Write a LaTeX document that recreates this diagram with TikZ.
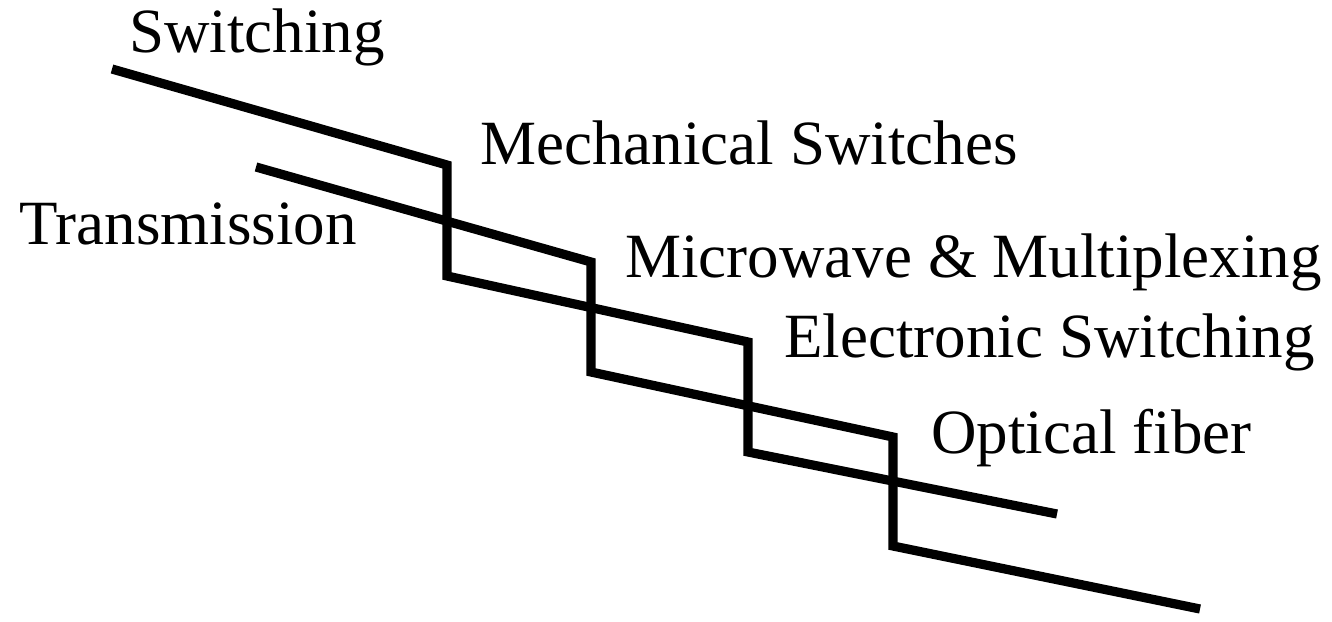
\documentclass[tikz,border=0pt]{standalone}
\usepackage{fontspec}
\setmainfont{Liberation Serif}
\usepackage{tikz}
\usetikzlibrary{positioning}

\begin{document}
\begin{tikzpicture}[
      x=0.5pt, y=-0.5pt,
      rotulo/.style={anchor=base west, inner sep=0pt, font=\fontsize{31.5}{36}\selectfont},
      degrau/.style={line width=4.6pt, line join=miter, line cap=butt}
  ]
      \useasboundingbox (0,0) rectangle (1332,621);

      % Rotulos
      \node[rotulo] (comut) at (129,52) {Switching};
      \node[rotulo] (trans) at (19,244) {Transmission};
      \node[rotulo] (mecan) at (480,164) {Mechanical Switches};
      \node[rotulo] (micro) at (625,277) {Microwave \& Multiplexing};
      \node[rotulo] (eletr) at (784,357) {Electronic Switching};
      \node[rotulo] (optic) at (931,453) {Optical fiber};

      % Cantos da escada (comutacao)
      \coordinate (c1) at (112,69);
      \coordinate (c2) at (447,165);
      \coordinate (c3) at (447,276);
      \coordinate (c4) at (748,342);
      \coordinate (c5) at (748,452);
      \coordinate (c6) at (1057,514);

      % Cantos da escada (transmissao)
      \coordinate (t1) at (256,167);
      \coordinate (t2) at (591,262);
      \coordinate (t3) at (591,372);
      \coordinate (t4) at (893,437);
      \coordinate (t5) at (893,546);
      \coordinate (t6) at (1200,609);

      \draw[degrau] (c1) -- (c2) -- (c3) -- (c4) -- (c5) -- (c6);
      \draw[degrau] (t1) -- (t2) -- (t3) -- (t4) -- (t5) -- (t6);
  \end{tikzpicture}
\end{document}
